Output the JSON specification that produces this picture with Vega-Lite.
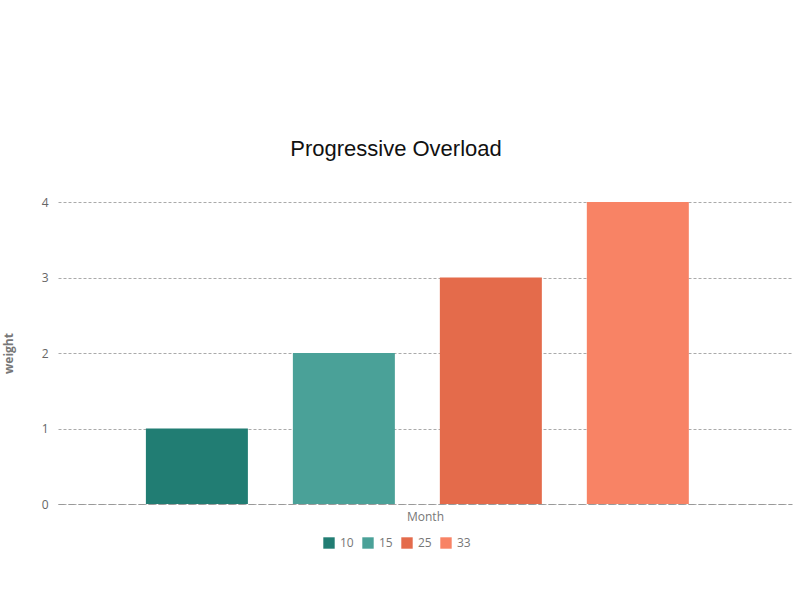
{
  "$schema": "https://vega.github.io/schema/vega-lite/v6.json",
  "width": 734,
  "height": 302,
  "autosize": {"type": "none"},
  "padding": {"left": 58, "top": 202, "right": 8, "bottom": 96},
  "background": "white",
  "config": {"view": {"stroke": null}},
  "title": {
    "text": "Progressive Overload",
    "font": "Liberation Sans",
    "fontSize": 22,
    "fontWeight": "normal",
    "color": "#111111",
    "anchor": "middle",
    "dx": -29,
    "offset": 35
  },
  "data": {
    "values": [
      {"series": "10", "weight": 1},
      {"series": "15", "weight": 2},
      {"series": "25", "weight": 3},
      {"series": "33", "weight": 4}
    ]
  },
  "mark": {"type": "bar"},
  "encoding": {
    "x": {
      "field": "series",
      "type": "nominal",
      "sort": null,
      "scale": {"paddingInner": 0.306, "paddingOuter": 0.65, "align": 0.46},
      "axis": {
        "title": "Month",
        "labels": false,
        "ticks": false,
        "domain": true,
        "domainDash": [6, 4],
        "domainColor": "#999999",
        "titleFont": "Open Sans",
        "titleFontSize": 12,
        "titleFontWeight": "normal",
        "titleColor": "#777777",
        "titlePadding": 7
      }
    },
    "y": {
      "field": "weight",
      "type": "quantitative",
      "scale": {"domain": [0, 4]},
      "axis": {
        "title": "weight",
        "values": [0, 1, 2, 3, 4],
        "format": "d",
        "domain": false,
        "ticks": false,
        "labelPadding": 10,
        "labelFont": "Open Sans",
        "labelFontSize": 12,
        "labelColor": "#666666",
        "gridDash": [3, 2],
        "gridColor": "#aaaaaa",
        "titleFont": "Open Sans",
        "titleFontSize": 12,
        "titleFontWeight": "bold",
        "titleColor": "#777777",
        "titlePadding": 26
      }
    },
    "color": {
      "field": "series",
      "type": "nominal",
      "sort": null,
      "scale": {"range": ["#217d73", "#4aa198", "#e46b4b", "#f88365"]},
      "legend": {
        "title": null,
        "orient": "none",
        "direction": "horizontal",
        "legendX": 265,
        "legendY": 335,
        "symbolType": "square",
        "symbolSize": 130,
        "symbolStrokeWidth": 0,
        "labelFont": "Open Sans",
        "labelFontSize": 12,
        "labelColor": "#777777",
        "columnPadding": 8,
        "labelOffset": 5
      }
    }
  }
}
